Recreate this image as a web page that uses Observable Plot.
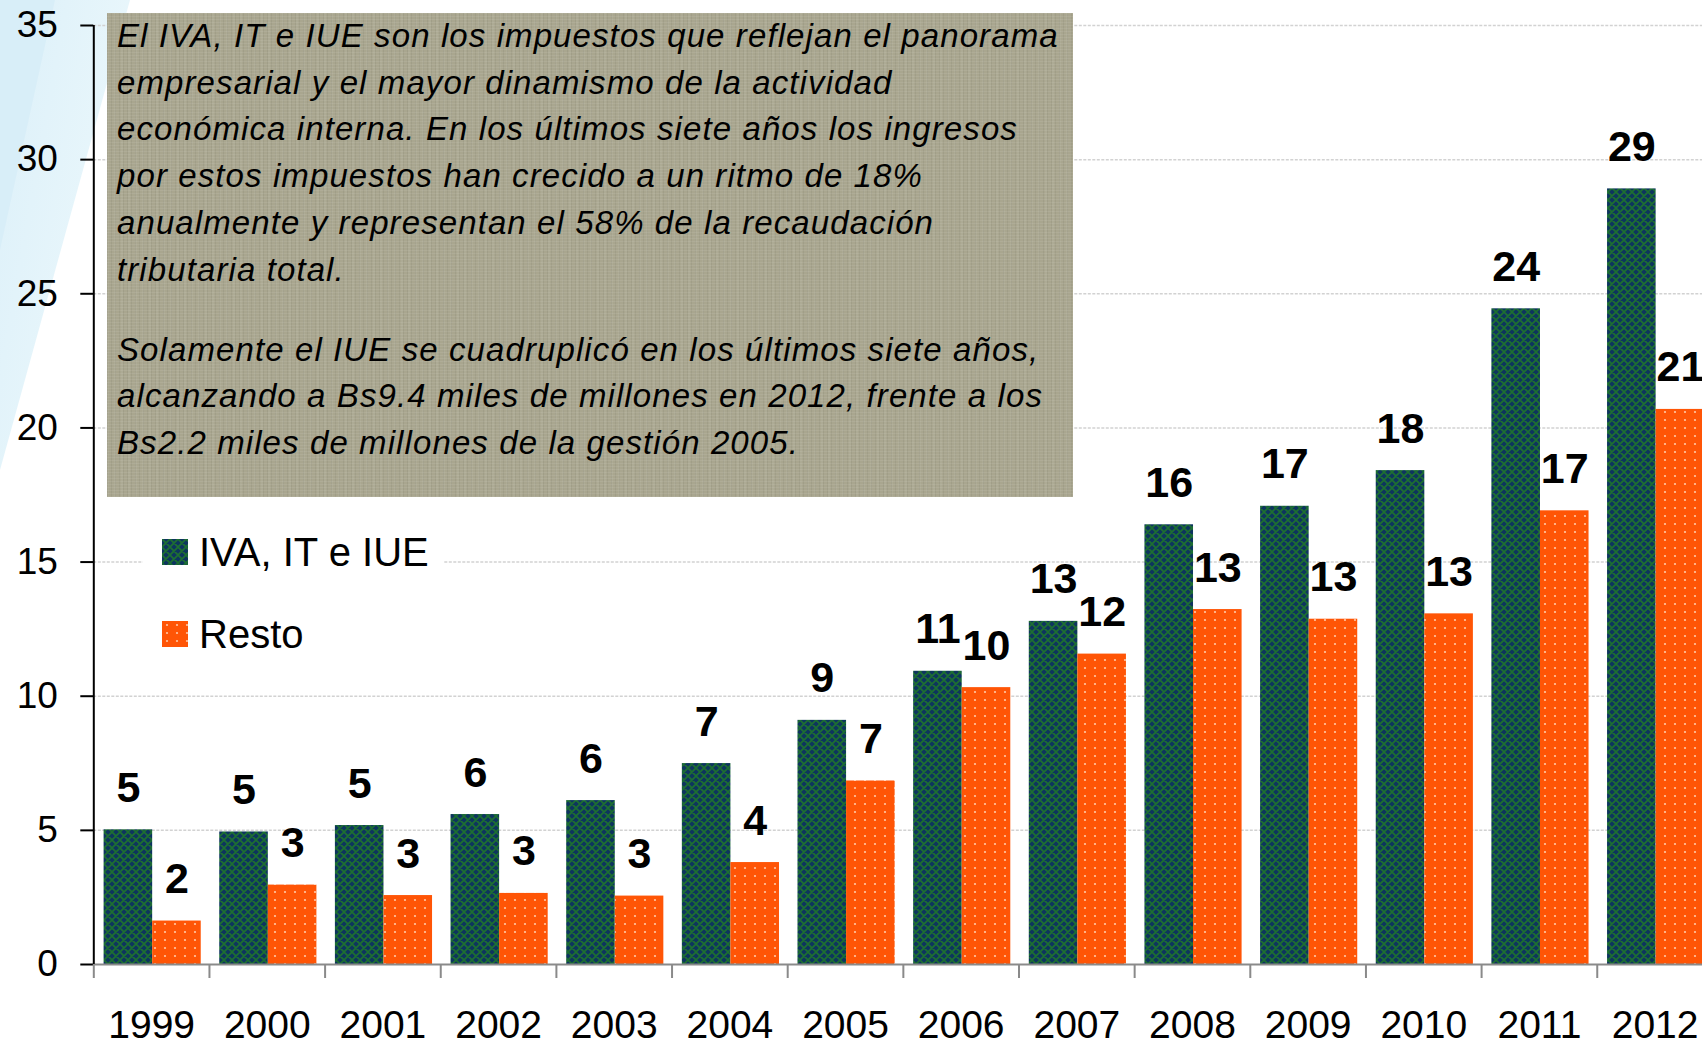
<!DOCTYPE html>
<html><head><meta charset="utf-8">
<script src="https://cdn.jsdelivr.net/npm/d3@7"></script>
<script src="https://cdn.jsdelivr.net/npm/@observablehq/plot@0.6"></script>
<style>
html,body{margin:0;padding:0;background:#fff;overflow:hidden;width:1702px;height:1046px;}
#wrap{position:relative;width:1702px;height:1046px;overflow:hidden;font-family:"Liberation Sans",Arial,sans-serif;color:#000;}
.deco{position:absolute;left:0;top:0;}
.d1{width:140px;height:480px;clip-path:polygon(0 0,130px 0,0 470px);background:linear-gradient(100deg,#dcf0f9 0%,#e8f6fb 60%,#f2fafd 100%);}
.d2{width:70px;height:260px;clip-path:polygon(0 0,55px 0,0 250px);background:#d8eef8;}
#chart{position:absolute;left:0;top:0;width:1730px;}
#chart svg{max-width:none !important;}
#note{position:absolute;left:107px;top:13px;width:966px;height:484px;box-sizing:border-box;padding:0 0 0 10px;
 background-color:#a9a68f;
 background-image:repeating-linear-gradient(0deg,rgba(255,255,255,0.07) 0 1px,transparent 1px 3px),repeating-linear-gradient(90deg,rgba(0,0,0,0.05) 0 1px,transparent 1px 4px),repeating-linear-gradient(90deg,rgba(255,255,255,0.05) 0 2px,transparent 2px 7px);
 font-style:italic;font-size:33px;line-height:46.7px;letter-spacing:1.1px;white-space:nowrap;}
#note p{margin:0;}
#note p + p{margin-top:33.5px;}
#legend{position:absolute;left:143px;top:512px;width:300px;height:150px;background:#fff;}
.lrow{position:absolute;left:19px;height:40px;display:flex;align-items:center;font-size:40px;}
.lrow svg{margin-right:11px;}
</style></head><body>
<svg width="0" height="0" style="position:absolute">
 <defs>
  <pattern id="patIva" patternUnits="userSpaceOnUse" width="8" height="8">
   <rect width="8" height="8" fill="#0d355e"/>
   <path d="M0,0L8,8M8,0L0,8M-2,6L2,10M6,-2L10,2M-2,2L2,-2M6,10L10,6" stroke="#1d7030" stroke-width="1.6"/>
  </pattern>
  <pattern id="patResto" patternUnits="userSpaceOnUse" width="10" height="8">
   <rect width="10" height="8" fill="#ff5506"/>
   <circle cx="5" cy="4" r="1.1" fill="#ffc7a3"/>
  </pattern>
 </defs>
</svg>
<div id="wrap">
 <div class="deco d1"></div><div class="deco d2"></div>
 <div id="chart"></div>
 <div id="note">
  <p>El IVA, IT e IUE son los impuestos que reflejan el panorama<br>empresarial y el mayor dinamismo de la actividad<br>económica interna. En los últimos siete años los ingresos<br>por estos impuestos han crecido a un ritmo de 18%<br>anualmente y representan el 58% de la recaudación<br>tributaria total.</p>
  <p>Solamente el IUE se cuadruplicó en los últimos siete años,<br>alcanzando a Bs9.4 miles de millones en 2012, frente a los<br>Bs2.2 miles de millones de la gestión 2005.</p>
 </div>
 <div id="legend"></div>
</div>
<script>
const years = [1999,2000,2001,2002,2003,2004,2005,2006,2007,2008,2009,2010,2011,2012];
const ivaItIue = [5.02,4.94,5.18,5.59,6.11,7.49,9.10,10.93,12.79,16.39,17.08,18.41,24.44,28.91];
const resto = [1.62,2.96,2.57,2.65,2.55,3.80,6.84,10.32,11.57,13.23,12.87,13.07,16.91,20.69];
const seriesNames = ["IVA, IT e IUE","Resto"];
const seriesFills = ["url(#patIva)","url(#patResto)"];
const yTicks = [0,5,10,15,20,25,30,35];

// grouped-bar layout within each year slot (in year units)
const padL = 0.089, barW = 0.42;
const rows = years.flatMap((yr,i)=>[
  {year:yr, k:0, series:seriesNames[0], value:ivaItIue[i]},
  {year:yr, k:1, series:seriesNames[1], value:resto[i]}
]);
const x1 = d => d.year - 0.5 + padL + d.k*barW;
const x2 = d => x1(d) + barW;
const xc = d => x1(d) + barW/2;
const boundaries = years.map(y => y - 0.5).concat([years[years.length-1] + 0.5]);

const W = 1730;
const chart = Plot.plot({
  width: W, height: 1046,
  marginLeft: 93.3, marginRight: W - 1712.4, marginTop: 25, marginBottom: 82,
  x: {type:"linear", domain:[1998.5, 2012.5], axis:null},
  y: {domain:[0,35], axis:null},
  style: {fontFamily:'"Liberation Sans", Arial, sans-serif', background:"transparent", color:"#000", overflow:"visible", maxWidth:"none"},
  marks: [
    Plot.gridY(yTicks.slice(1), {stroke:"#d2d2d2", strokeOpacity:1, strokeWidth:1.5, strokeDasharray:"3,1.5"}),
    Plot.rect(rows.filter(d=>d.k===0), {x1, x2, y1:0, y2:"value", fill:seriesFills[0]}),
    Plot.rect(rows.filter(d=>d.k===1), {x1, x2, y1:0, y2:"value", fill:seriesFills[1]}),
    Plot.ruleY([0], {stroke:"#8a8a8a", strokeWidth:2}),
    Plot.ruleX([1998.5], {stroke:"#000", strokeWidth:2}),
    Plot.axisY({ticks:yTicks, label:null, tickSize:13, tickPadding:23, fontSize:37, stroke:"#000", strokeWidth:2, tickFormat:d=>String(d)}),
    Plot.axisX({ticks:boundaries, label:null, tickSize:14, tickFormat:()=>"", stroke:"#8a8a8a", strokeWidth:2}),
    Plot.axisX({ticks:years, label:null, tickSize:0, tickPadding:46, fontSize:39, tickFormat:d=>String(d)}),
    Plot.text(rows, {x:xc, y:"value", text:d=>String(Math.round(d.value)), dy:-28, lineAnchor:"bottom", fontSize:43, fontWeight:"bold", fill:"#000"})
  ]
});
chart.style.maxWidth = "none";
document.getElementById("chart").appendChild(chart);

// legend
const lg = document.getElementById("legend");
const rowTops = [20, 102];
seriesNames.forEach((name,i)=>{
  const r = document.createElement("div");
  r.className = "lrow";
  r.style.top = rowTops[i] + "px";
  r.innerHTML = `<svg width="26" height="26"><rect width="26" height="26" fill="${seriesFills[i]}"/></svg><span>${name}</span>`;
  lg.appendChild(r);
});
</script>
</body></html>
